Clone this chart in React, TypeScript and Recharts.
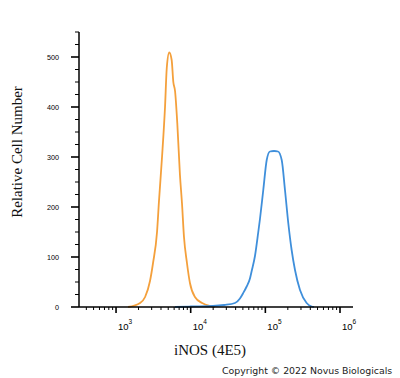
import { LineChart, Line, XAxis, YAxis } from 'recharts';

// isotype control (orange) - intensity vs relative cell count
const isotypeIntensity = [1450, 2100, 2450, 2850, 3130, 3540, 3760, 4130, 4530, 4780, 5160, 5560, 5850, 6170, 6610, 7180, 7640, 8130, 8910, 9770, 11400, 14200, 18100, 21100];
const isotypeCount = [0, 8, 20, 52, 88, 150, 212, 300, 400, 478, 509, 494, 450, 432, 368, 264, 208, 140, 88, 48, 20, 8, 2, 0];

// iNOS (4E5) stained (blue)
const stainedIntensity = [6170, 10000, 19900, 28200, 39200, 45700, 50100, 56200, 62200, 65600, 72600, 80400, 84700, 93800, 104300, 115300, 130600, 147600, 165600, 183200, 202800, 224900, 249500, 291100, 357300, 416900, 446700];
const stainedCount = [0, 1, 2, 4, 8, 17, 27, 41, 57, 72, 102, 150, 176, 234, 294, 311, 312, 311, 294, 234, 168, 114, 74, 34, 8, 1, 0];

const xMajor = [1000, 10000, 100000, 1000000];
const xMinor = [400, 500, 600, 700, 800, 900,
  2000, 3000, 4000, 5000, 6000, 7000, 8000, 9000,
  20000, 30000, 40000, 50000, 60000, 70000, 80000, 90000,
  200000, 300000, 400000, 500000, 600000, 700000, 800000, 900000];
const xDomain = [319, 1493000];

const yTicks = [0, 25, 50, 75, 100, 125, 150, 175, 200, 225, 250, 275, 300, 325, 350, 375, 400, 425, 450, 475, 500, 525, 550];

const isotype = isotypeIntensity.map((x, i) => ({ x, count: isotypeCount[i] }));
const stained = stainedIntensity.map((x, i) => ({ x, count: stainedCount[i] }));

const TICK_FONT = "'Liberation Sans', Arial, sans-serif";

function XTick({ x, y, payload }: any) {
  const v = payload.value as number;
  const major = xMajor.includes(v);
  const exp = Math.round(Math.log10(v));
  return (
    <g>
      <line x1={x} y1={y} x2={x} y2={y + (major ? 6 : 3)} stroke="#000" strokeWidth={major ? 1.6 : 1} />
      {major && (
        <text x={x + 2} y={y + 23} fontSize={9.5} fontFamily={TICK_FONT} fill="#000">
          10
          <tspan dy={-6} fontSize={6.5}>{exp}</tspan>
        </text>
      )}
    </g>
  );
}

function YTick({ x, y, payload }: any) {
  const v = payload.value as number;
  const major = v % 100 === 0;
  return (
    <g>
      <line x1={x - (major ? 8 : 4)} y1={y} x2={x} y2={y} stroke="#000" strokeWidth={major ? 1.6 : 1} />
      {major && (
        <text x={x - 20} y={y} dy="0.35em" textAnchor="end" fontSize={7.2} fontFamily={TICK_FONT} fill="#000">
          {v}
        </text>
      )}
    </g>
  );
}

export default function App() {
  return (
    <div style={{ position: 'fixed', left: 0, top: 0, width: 400, height: 378, background: '#fff' }}>
      <LineChart width={400} height={378} margin={{ top: 32, right: 47, bottom: 41, left: 39 }}>
        <XAxis
          dataKey="x"
          type="number"
          scale="log"
          domain={xDomain}
          allowDataOverflow
          ticks={[...xMinor, ...xMajor].sort((a, b) => a - b)}
          interval={0}
          tick={<XTick />}
          tickLine={false}
          tickSize={0}
          tickMargin={0}
          height={30}
          axisLine={{ stroke: '#000', strokeWidth: 1.5 }}
        />
        <YAxis
          type="number"
          domain={[0, 550]}
          ticks={yTicks}
          interval={0}
          tick={<YTick />}
          tickLine={false}
          tickSize={0}
          tickMargin={0}
          width={40}
          axisLine={{ stroke: '#000', strokeWidth: 1.5 }}
        />
        <Line data={isotype} dataKey="count" type="monotone" stroke="#f4a03c" strokeWidth={1.8} dot={false} isAnimationActive={false} />
        <Line data={stained} dataKey="count" type="monotone" stroke="#3f8fdb" strokeWidth={1.8} dot={false} isAnimationActive={false} />
      </LineChart>
      <div style={{
        position: 'absolute', left: 17, top: 152, transform: 'translate(-50%, -50%) rotate(-90deg)',
        whiteSpace: 'nowrap', fontFamily: "'Liberation Serif', serif", fontSize: 15, color: '#111',
      }}>Relative Cell Number</div>
      <div style={{
        position: 'absolute', left: 210, top: 350, transform: 'translate(-50%, -50%)',
        whiteSpace: 'nowrap', fontFamily: "'Liberation Serif', serif", fontSize: 15, color: '#111',
      }}>iNOS (4E5)</div>
      <div style={{
        position: 'absolute', left: 222, top: 370, transform: 'translateY(-50%)',
        whiteSpace: 'nowrap', fontFamily: "'DejaVu Sans', sans-serif", fontSize: 9.4, color: '#222',
      }}>Copyright © 2022 Novus Biologicals</div>
    </div>
  );
}
